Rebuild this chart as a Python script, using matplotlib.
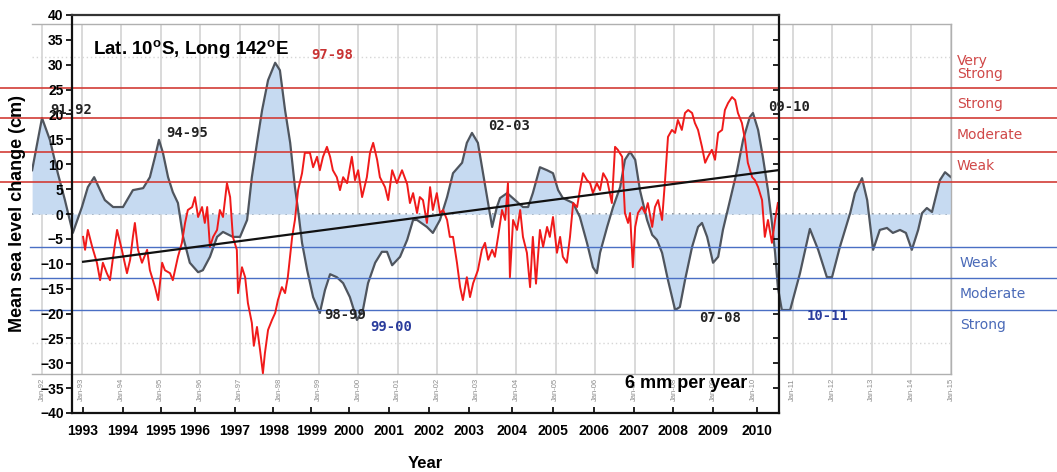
import matplotlib.pyplot as plt

plt.rcParams['font.family'] = ['Liberation Sans', 'DejaVu Sans']
plt.rcParams['mathtext.fontset'] = 'custom'
plt.rcParams['mathtext.rm'] = 'Liberation Sans'
plt.rcParams['mathtext.bf'] = 'Liberation Sans:bold'

# ENSO index drawn behind the record, already scaled to cm
enso_year = [1991.75, 1992.00, 1992.20, 1992.40, 1992.58, 1992.78, 1993.01, 1993.16, 1993.32, 1993.47,
             1993.59, 1993.80, 1994.05, 1994.30, 1994.56, 1994.73, 1994.86, 1994.96, 1995.06, 1995.19,
             1995.31, 1995.44, 1995.57, 1995.74, 1995.95, 1996.07, 1996.25, 1996.43, 1996.58, 1996.83,
             1997.01, 1997.19, 1997.31, 1997.44, 1997.57, 1997.72, 1997.90, 1998.02, 1998.15, 1998.28,
             1998.40, 1998.48, 1998.58, 1998.71, 1998.86, 1999.03, 1999.16, 1999.29, 1999.46, 1999.62,
             1999.79, 1999.97, 2000.12, 2000.25, 2000.43, 2000.60, 2000.73, 2000.86, 2001.06, 2001.24,
             2001.39, 2001.49, 2001.74, 2001.89, 2002.07, 2002.25, 2002.40, 2002.63, 2002.75, 2002.88,
             2003.03, 2003.16, 2003.26, 2003.39, 2003.51, 2003.59, 2003.77, 2003.97, 2004.17, 2004.30,
             2004.42, 2004.60, 2004.78, 2004.93, 2005.06, 2005.18, 2005.44, 2005.61, 2005.79, 2005.94,
             2006.04, 2006.12, 2006.30, 2006.45, 2006.63, 2006.75, 2006.88, 2007.01, 2007.13, 2007.31,
             2007.44, 2007.56, 2007.69, 2007.84, 2008.02, 2008.14, 2008.27, 2008.45, 2008.60, 2008.70,
             2008.83, 2008.98, 2009.11, 2009.23, 2009.41, 2009.59, 2009.74, 2009.91, 2009.99, 2010.12,
             2010.24, 2010.37, 2010.47, 2010.55, 2010.62, 2010.72, 2010.93, 2011.18, 2011.43, 2011.64,
             2011.86, 2011.99, 2012.19, 2012.45, 2012.57, 2012.75, 2012.88, 2013.03, 2013.20, 2013.38,
             2013.53, 2013.71, 2013.86, 2014.01, 2014.17, 2014.27, 2014.39, 2014.52, 2014.72, 2014.85,
             2015.00]
enso_cm = [8.8, 19.3, 14.9, 8.2, 2.8, -3.8, 1.4, 5.4, 7.4, 4.8,
           2.8, 1.4, 1.4, 4.8, 5.2, 7.4, 11.5, 14.9, 12.3, 7.4,
           4.4, 2.2, -4.6, -9.8, -11.7, -11.3, -8.6, -4.6, -3.6, -4.6,
           -4.6, -1.2, 7.4, 14.3, 20.9, 26.9, 30.4, 28.9, 20.9, 14.3,
           5.4, 0.8, -5.8, -11.3, -16.7, -19.9, -15.3, -12.1, -12.7, -13.9,
           -16.7, -21.3, -19.3, -13.9, -9.8, -7.6, -7.6, -10.3, -8.6, -5.2,
           -1.2, -1.2, -2.6, -3.8, -1.2, 3.4, 8.2, 10.3, 14.3, 16.3,
           14.3, 8.2, 3.4, -2.6, 1.4, 3.2, 4.2, 2.8, 1.4, 1.4,
           4.2, 9.4, 8.8, 8.2, 4.8, 3.2, 2.2, -0.6, -5.8, -10.7,
           -11.9, -7.8, -2.6, 1.4, 5.4, 10.9, 12.5, 10.9, 4.8, -1.2,
           -4.2, -5.2, -7.8, -13.3, -19.3, -18.7, -13.3, -6.6, -2.6, -1.8,
           -4.6, -9.8, -8.6, -3.2, 2.8, 8.8, 14.9, 19.5, 20.3, 16.9,
           11.5, 4.8, -1.8, -7.8, -14.7, -19.3, -19.3, -11.9, -3.0, -7.2,
           -12.7, -12.7, -6.6, 0.2, 4.2, 7.2, 2.8, -7.2, -3.2, -2.8,
           -3.8, -3.2, -3.8, -7.2, -3.2, 0.2, 1.2, 0.4, 6.8, 8.4,
           7.4]

# mean sea level record (red)
sl_year = [1993.04, 1993.09, 1993.16, 1993.27, 1993.39, 1993.47, 1993.54, 1993.64, 1993.72, 1993.80,
           1993.90, 1994.02, 1994.15, 1994.23, 1994.30, 1994.35, 1994.43, 1994.53, 1994.66, 1994.73,
           1994.86, 1994.94, 1995.04, 1995.11, 1995.24, 1995.31, 1995.44, 1995.54, 1995.62, 1995.69,
           1995.80, 1995.87, 1995.95, 1996.05, 1996.12, 1996.18, 1996.25, 1996.33, 1996.43, 1996.50,
           1996.58, 1996.68, 1996.76, 1996.83, 1996.93, 1996.96, 1997.06, 1997.14, 1997.21, 1997.31,
           1997.36, 1997.44, 1997.52, 1997.59, 1997.64, 1997.72, 1997.82, 1997.90, 1997.97, 1998.07,
           1998.15, 1998.22, 1998.33, 1998.40, 1998.48, 1998.58, 1998.65, 1998.78, 1998.86, 1998.96,
           1999.03, 1999.11, 1999.21, 1999.29, 1999.36, 1999.46, 1999.54, 1999.62, 1999.72, 1999.84,
           1999.92, 2000.00, 2000.10, 2000.22, 2000.30, 2000.38, 2000.48, 2000.55, 2000.68, 2000.76,
           2000.86, 2000.98, 2001.11, 2001.24, 2001.31, 2001.39, 2001.49, 2001.56, 2001.64, 2001.74,
           2001.82, 2001.89, 2001.99, 2002.07, 2002.15, 2002.25, 2002.32, 2002.40, 2002.50, 2002.58,
           2002.65, 2002.75, 2002.83, 2002.91, 2003.03, 2003.13, 2003.21, 2003.29, 2003.39, 2003.46,
           2003.54, 2003.64, 2003.72, 2003.79, 2003.84, 2003.92, 2004.02, 2004.10, 2004.17, 2004.27,
           2004.35, 2004.42, 2004.50, 2004.60, 2004.68, 2004.78, 2004.85, 2004.93, 2005.03, 2005.11,
           2005.18, 2005.28, 2005.36, 2005.44, 2005.54, 2005.61, 2005.69, 2005.79, 2005.87, 2005.94,
           2006.04, 2006.12, 2006.20, 2006.30, 2006.42, 2006.50, 2006.57, 2006.68, 2006.75, 2006.83,
           2006.88, 2006.95, 2007.01, 2007.08, 2007.18, 2007.26, 2007.33, 2007.44, 2007.51, 2007.59,
           2007.69, 2007.76, 2007.84, 2007.94, 2008.02, 2008.09, 2008.19, 2008.27, 2008.35, 2008.45,
           2008.52, 2008.60, 2008.70, 2008.78, 2008.85, 2008.95, 2009.03, 2009.11, 2009.21, 2009.28,
           2009.36, 2009.46, 2009.54, 2009.61, 2009.71, 2009.79, 2009.86, 2009.97, 2010.04, 2010.12,
           2010.22, 2010.29, 2010.37, 2010.47, 2010.55, 2010.62]
sl_cm = [-4.6, -7.2, -3.2, -6.6, -9.8, -13.3, -9.8, -11.9, -13.3, -8.6,
         -3.2, -7.2, -11.9, -9.2, -4.6, -1.8, -7.2, -9.8, -7.2, -11.3,
         -14.7, -17.3, -9.8, -11.3, -11.9, -13.3, -8.6, -5.8, -1.8, 0.8,
         1.4, 3.4, -0.6, 1.4, -1.8, 1.4, -6.6, -4.6, -3.2, 0.8,
         -0.6, 6.2, 3.4, -4.6, -7.2, -15.9, -10.7, -12.7, -17.9, -21.9,
         -26.5, -22.7, -27.5, -32.0, -28.0, -23.3, -21.3, -19.9, -17.3, -14.7,
         -15.9, -12.7, -4.6, -1.2, 4.8, 8.2, 12.3, 12.3, 9.4, 11.5,
         8.8, 11.5, 13.5, 11.5, 8.8, 7.4, 4.8, 7.4, 6.2, 11.5,
         6.8, 8.8, 3.4, 7.4, 12.3, 14.3, 10.9, 7.4, 5.4, 2.8,
         8.8, 6.2, 8.8, 6.0, 2.2, 4.2, 0.2, 3.4, 2.8, -1.8,
         5.4, 0.8, 4.2, 0.2, 0.8, -1.2, -4.6, -4.6, -9.8, -14.7,
         -17.3, -12.7, -16.7, -13.9, -11.3, -7.2, -5.8, -9.2, -7.2, -8.6,
         -4.6, 0.8, -1.2, 6.2, -12.7, -1.2, -3.2, 0.8, -4.6, -7.8,
         -14.7, -4.6, -14.0, -3.2, -6.6, -2.6, -4.6, -0.6, -7.8, -4.6,
         -8.6, -9.8, -4.6, 2.2, 1.4, 4.8, 8.2, 6.8, 6.2, 4.2,
         6.2, 4.8, 8.2, 6.8, 2.2, 13.5, 12.9, 11.5, 0.2, -1.8,
         0.2, -10.7, -2.6, 0.2, 1.4, 0.2, 2.2, -2.6, 1.4, 2.8,
         -1.2, 6.2, 15.5, 16.9, 16.3, 18.9, 16.9, 20.3, 20.9, 20.3,
         18.3, 16.9, 13.5, 10.3, 11.5, 12.9, 10.9, 16.3, 16.9, 20.9,
         22.3, 23.5, 22.9, 20.3, 18.3, 14.9, 10.3, 7.4, 6.8, 5.4,
         2.8, -4.6, -1.2, -5.8, -1.2, 2.2]

trend_year = [1993.04, 2010.62]
trend_cm = [-9.6, 8.8]

year_labels = [str(y) for y in range(1993, 2011)]
year_tick_pos = [1993.04, 1994.05, 1995.01, 1995.87, 1996.88, 1997.85, 1998.81, 1999.77, 2000.78,
                 2001.79, 2002.80, 2003.89, 2004.93, 2005.97, 2006.98, 2007.97, 2008.98, 2010.09]
month_years = list(range(1992, 2016))
month_labels = ['Jan-%02d' % (y % 100) for y in month_years]

nino_levels = [6.4, 12.5, 19.3, 25.3]
nino_names = ['Weak', 'Moderate', 'Strong', 'Very\nStrong']
nina_levels = [-6.6, -12.9, -19.3]
nina_names = ['Weak', 'Moderate', 'Strong']

events = ['91-92', '94-95', '97-98', '98-99', '99-00', '02-03', '07-08', '09-10', '10-11']
event_x = [1992.73, 1995.67, 1999.34, 1999.67, 2000.83, 2003.82, 2009.16, 2010.90, 2011.89]
event_y = [20.9, 16.3, 32.0, -20.3, -22.7, 17.7, -20.9, 21.5, -20.5]
event_col = ['#222222', '#222222', '#c83232', '#222222', '#2a3c9c', '#222222', '#222222', '#222222', '#2a3c9c']

# pixel geometry of the original picture, shared by both panels
W, H = 1057, 472
X_1992, PX_YR = 42.0, 39.52
Y_ZERO, PX_CM = 214.0, 4.975


def px_axes(fig, left, top, right, bottom, **kw):
    """ Add an axes given its pixel box; limits follow the common year/cm scale """
    ax = fig.add_axes([left / W, 1 - bottom / H, (right - left) / W, (bottom - top) / H], **kw)
    ax.set_xlim(1992 + (left - X_1992) / PX_YR, 1992 + (right - X_1992) / PX_YR)
    ax.set_ylim((Y_ZERO - bottom) / PX_CM, (Y_ZERO - top) / PX_CM)
    return ax


def px_year(px):
    return 1992 + (px - X_1992) / PX_YR


fig = plt.figure(figsize=(W / 100, H / 100), dpi=100)

# ---- background ENSO panel
ax_bg = px_axes(fig, 32, 24, 951, 374, zorder=0)
ax_bg.set_yticks([])
ax_bg.set_xticks(month_years, labels=month_labels, rotation=90, fontsize=5.5, color='#8c8c8c')
ax_bg.tick_params(axis='x', length=0, pad=3)
for yr in month_years:
    ax_bg.axvline(yr, color='#cfcfcf', lw=1.1, zorder=0.5)
for lev in [31.6, -25.9]:
    ax_bg.axhline(lev, color='#d6d6d6', lw=1.0, ls=(0, (1, 2)), zorder=0.5)
ax_bg.axhline(0, color='#7c8590', lw=1.2, ls=(0, (1, 3)), zorder=0.6)
ax_bg.spines['left'].set_visible(False)
for side in ['top', 'right', 'bottom']:
    ax_bg.spines[side].set_color('#b0b0b0')
    ax_bg.spines[side].set_linewidth(1.0)

ax_bg.fill_between(enso_year, enso_cm, 0, color='#c6daf1', lw=0, zorder=1)
ax_bg.plot(enso_year, enso_cm, color='#4f555e', lw=1.6, zorder=2)

# intensity thresholds run across the whole picture
for lev in nino_levels:
    ax_bg.plot([px_year(0), px_year(W)], [lev, lev], color='#d23c36', lw=1.2, zorder=3, clip_on=False)
for lev in nina_levels:
    ax_bg.plot([px_year(30), px_year(W)], [lev, lev], color='#4a6fc4', lw=1.0, zorder=3, clip_on=False)

nino_text_y = [9.6, 15.9, 22.1, 29.4]
nina_text_y = [-9.8, -16.1, -22.3]
for name, ty in zip(nino_names, nino_text_y):
    ax_bg.text(px_year(957), ty, name, color='#d04848', fontsize=10, family='DejaVu Sans',
               va='center', ha='left', linespacing=0.9, clip_on=False)
for name, ty in zip(nina_names, nina_text_y):
    ax_bg.text(px_year(960), ty, name, color='#4a6ab8', fontsize=10, family='DejaVu Sans',
               va='center', ha='left', clip_on=False)

# ---- foreground sea level panel
ax = px_axes(fig, 72, 15, 779, 413, zorder=1)
ax.patch.set_visible(False)
ax.plot(sl_year, sl_cm, color='#f01a1a', lw=1.4, zorder=2)
ax.plot(trend_year, trend_cm, color='#111111', lw=1.6, zorder=3)

ax.set_yticks(range(-40, 41, 5))
ax.set_xticks(year_tick_pos, labels=year_labels)
for lab in ax.get_xticklabels() + ax.get_yticklabels():
    lab.set_fontweight('bold')
    lab.set_fontsize(10)
ax.tick_params(axis='y', direction='out', length=4, width=1.2, pad=2, right=True, labelright=False)
ax.tick_params(axis='x', direction='in', length=4, width=1.2, pad=8)
for tick in ax.yaxis.get_major_ticks():
    tick.tick2line.set_marker(0)  # right side ticks point inwards
for side in ['left', 'right', 'bottom']:
    ax.spines[side].set_linewidth(1.6)
    ax.spines[side].set_color('#111111')
ax.spines['top'].set_linewidth(1.6)
ax.spines['top'].set_color('#333333')

ax.set_xlabel('Year', fontsize=12, fontweight='bold', labelpad=13)
fig.text(18 / W, 1 - 213 / H, 'Mean sea level change (cm)', rotation=90, fontsize=13,
         fontweight='bold', ha='center', va='center')

ax.text(px_year(93), 33.0, r'Lat. 10$^{\mathbf{o}}$S, Long 142$^{\mathbf{o}}$E', fontsize=13.5,
        fontweight='bold', ha='left', va='center')
ax.text(2008.30, -34.0, '6 mm per year', fontsize=13, fontweight='bold', ha='center', va='center')

for name, ex, ey, col in zip(events, event_x, event_y, event_col):
    ax.text(ex, ey, name, color=col, fontsize=10, family='DejaVu Sans Mono', fontweight='bold',
            ha='center', va='center', clip_on=False, zorder=5)

fig.savefig('out.png', dpi=100)
